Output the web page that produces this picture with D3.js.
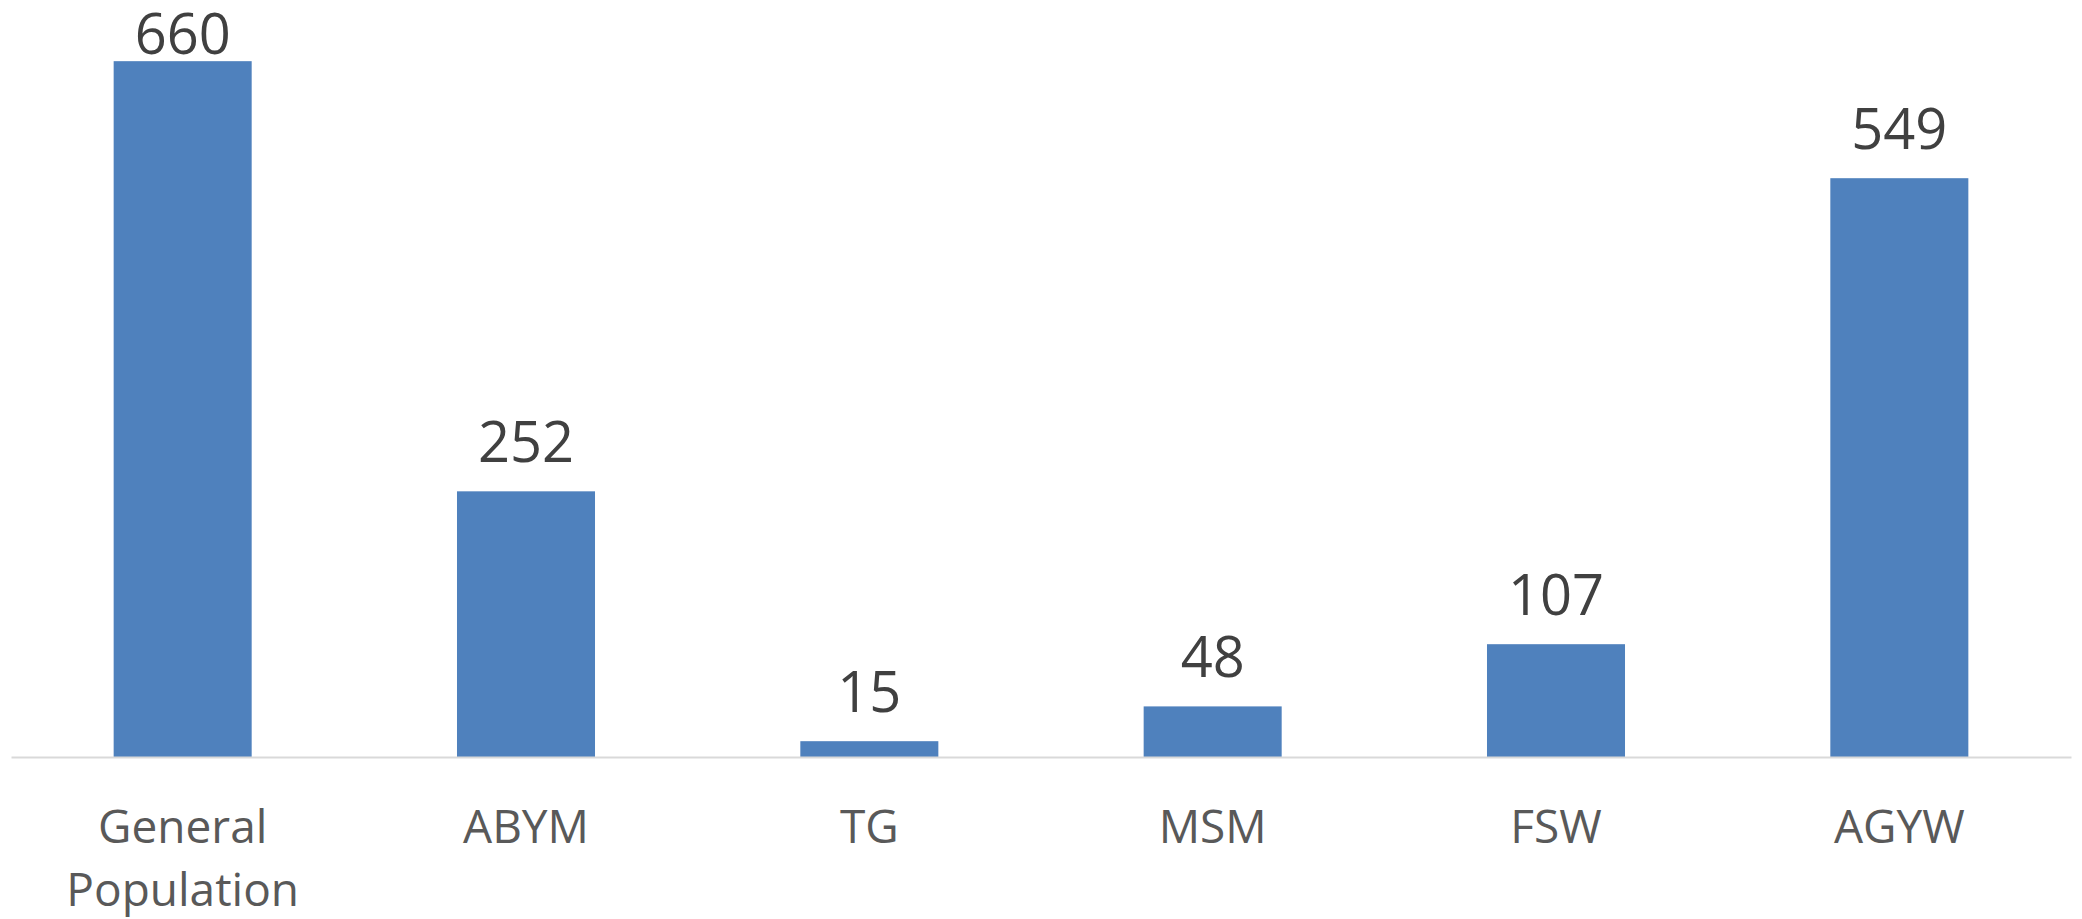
<!DOCTYPE html>
<html>
<head>
<meta charset="utf-8">
<script src="https://cdn.jsdelivr.net/npm/d3@7"></script>
<style>
  body { margin: 0; background: #fff; }
  svg { display: block; }
</style>
</head>
<body>
<div id="chart"></div>
<script>
// Data
const categories = ['General Population', 'ABYM', 'TG', 'MSM', 'FSW', 'AGYW'];
const categoryLines = [['General', 'Population'], ['ABYM'], ['TG'], ['MSM'], ['FSW'], ['AGYW']];
const values = [660, 252, 15, 48, 107, 549];

const width = 2082;
const height = 919;
const margin = {top: 19, right: 11, bottom: 162, left: 11};

const svg = d3.select('#chart')
    .append('svg')
    .attr('width', width)
    .attr('height', height);

const x = d3.scaleBand()
    .domain(categories)
    .range([margin.left, width - margin.right])
    .paddingInner(0.598)
    .paddingOuter(0.299);

const y = d3.scaleLinear()
    .domain([0, 700])
    .range([height - margin.bottom, margin.top]);

// Bars
svg.selectAll('.bar')
    .data(values)
    .enter()
    .append('rect')
    .attr('class', 'bar')
    .attr('x', (d, i) => x(categories[i]))
    .attr('y', d => y(d))
    .attr('width', x.bandwidth())
    .attr('height', d => y(0) - y(d))
    .attr('fill', '#4f81bd');

// Baseline axis
svg.append('g')
    .attr('transform', `translate(0,${y(0)})`)
    .call(d3.axisBottom(x).tickSize(0).tickFormat(''))
    .call(g => g.select('.domain').attr('stroke', '#d9d9d9').attr('stroke-width', 2));

// Value labels (pushed down inside the plot when there is no room above)
svg.selectAll('.value-label')
    .data(values)
    .enter()
    .append('text')
    .attr('class', 'value-label')
    .attr('x', (d, i) => x(categories[i]) + x.bandwidth() / 2)
    .attr('y', d => Math.max(y(d) - 29, 54))
    .attr('text-anchor', 'middle')
    .attr('font-family', 'Open Sans, sans-serif')
    .attr('font-size', '56px')
    .attr('fill', '#404040')
    .text(d => d);

// Category labels
const catLabels = svg.selectAll('.cat-label')
    .data(categories)
    .enter()
    .append('text')
    .attr('class', 'cat-label')
    .attr('x', d => x(d) + x.bandwidth() / 2)
    .attr('y', 843)
    .attr('text-anchor', 'middle')
    .attr('font-family', 'Open Sans, sans-serif')
    .attr('font-size', '46px')
    .attr('fill', '#595959');

catLabels.selectAll('tspan')
    .data((d, i) => categoryLines[i])
    .enter()
    .append('tspan')
    .attr('x', function() { return d3.select(this.parentNode).attr('x'); })
    .attr('dy', (d, i) => i === 0 ? 0 : 63)
    .text(d => d);
</script>
</body>
</html>
